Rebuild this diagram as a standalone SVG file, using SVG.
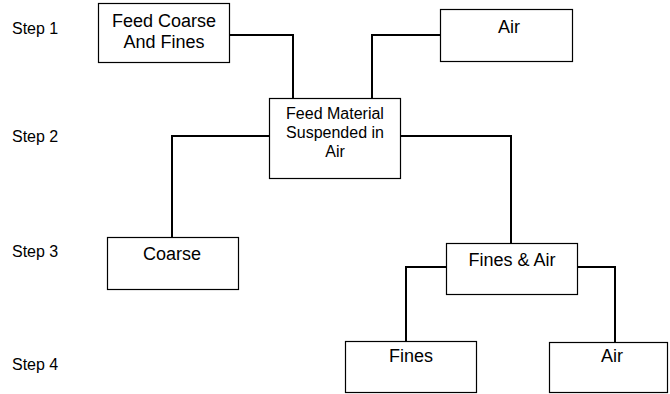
<svg xmlns="http://www.w3.org/2000/svg" width="670" height="394" viewBox="0 0 670 394">
<style>
.box{fill:#fff;stroke:#000;stroke-width:1.2}
.t{font-family:"Liberation Sans",Arial,sans-serif;font-size:18px;fill:#000;text-anchor:middle}
.s{font-family:"Liberation Sans",Arial,sans-serif;font-size:16px;fill:#000}
.m{font-family:"Liberation Sans",Arial,sans-serif;font-size:16px;fill:#000;text-anchor:middle}
.c{fill:none;stroke:#000;stroke-width:2}
</style>
<rect width="670" height="394" fill="#fff"/>
<g id="steps">
<text class="s" x="12" y="34">Step 1</text>
<text class="s" x="12" y="142">Step 2</text>
<text class="s" x="12" y="257">Step 3</text>
<text class="s" x="12" y="370">Step 4</text>
</g>
<g id="connectors">
<polyline class="c" points="229,35 293,35 293,98"/>
<polyline class="c" points="440,35 372,35 372,98"/>
<polyline class="c" points="269,136 172,136 172,237"/>
<polyline class="c" points="400,136 511,136 511,243"/>
<polyline class="c" points="446,267 406,267 406,341"/>
<polyline class="c" points="577,267 615,267 615,342"/>
</g>
<g id="feed">
<rect class="box" x="98.5" y="3.5" width="131" height="59"/>
<text class="t" x="164" y="27">Feed Coarse</text>
<text class="t" x="164" y="48">And Fines</text>
</g>
<g id="air1">
<rect class="box" x="440.5" y="9.5" width="132" height="52"/>
<text class="t" x="509" y="33">Air</text>
</g>
<g id="suspended">
<rect class="box" x="269.5" y="98.5" width="131" height="80"/>
<text class="m" x="335" y="119">Feed Material</text>
<text class="m" x="335" y="138">Suspended in</text>
<text class="m" x="335" y="157">Air</text>
</g>
<g id="coarse">
<rect class="box" x="107.5" y="237.5" width="131" height="52"/>
<text class="t" x="172" y="260">Coarse</text>
</g>
<g id="finesair">
<rect class="box" x="446.5" y="243.5" width="131" height="51"/>
<text class="t" x="512" y="266">Fines &amp; Air</text>
</g>
<g id="fines">
<rect class="box" x="345.5" y="341.5" width="131" height="51"/>
<text class="t" x="411" y="362">Fines</text>
</g>
<g id="air2">
<rect class="box" x="549.5" y="342.5" width="118" height="50"/>
<text class="t" x="612" y="362">Air</text>
</g>
</svg>
